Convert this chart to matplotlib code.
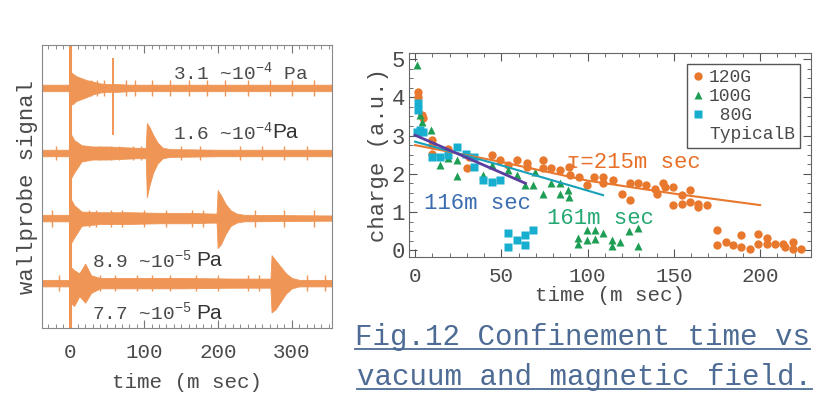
import matplotlib
matplotlib.use("Agg")
import matplotlib.pyplot as plt
from matplotlib.lines import Line2D
from matplotlib.ticker import MultipleLocator
import numpy as np

plt.rcParams['font.family'] = ['Liberation Mono', 'DejaVu Sans']
plt.rcParams['mathtext.fontset'] = 'custom'
plt.rcParams['mathtext.rm'] = 'Liberation Mono'

TXT = '#4a4a4a'
TRACE = '#ef9656'

# ---- left panel: wall probe traces (offsets 3,2,1,0) ----
offsets = [3, 2, 1, 0]

tr1_t = [-39, -2, 0, 3, 8, 15, 22, 30, 40, 50, 56, 62, 80, 120, 200, 280, 354]
tr1_up = [0.05, 0.05, 0.25, 0.22, 0.18, 0.15, 0.12, 0.10, 0.07, 0.06, 0.06, 0.06, 0.05, 0.05, 0.05, 0.05, 0.05]
tr1_dn = [0.05, 0.05, 0.25, 0.25, 0.20, 0.17, 0.14, 0.10, 0.07, 0.06, 0.06, 0.06, 0.05, 0.05, 0.05, 0.05, 0.05]

tr2_t = [-39, -2, 0, 5, 15, 30, 50, 70, 90, 102, 103.5, 107, 112, 118, 125, 135, 200, 354]
tr2_up = [0.05, 0.05, 0.30, 0.20, 0.12, 0.10, 0.10, 0.09, 0.08, 0.08, 0.46, 0.40, 0.28, 0.16, 0.08, 0.06, 0.05, 0.05]
tr2_dn = [0.05, 0.05, 0.40, 0.30, 0.13, 0.10, 0.10, 0.09, 0.08, 0.08, 0.68, 0.50, 0.30, 0.16, 0.08, 0.06, 0.05, 0.05]

tr3_t = [-39, -2, 0, 5, 15, 40, 80, 120, 160, 190, 198, 199.5, 204, 210, 217, 225, 235, 354]
tr3_up = [0.05, 0.05, 0.30, 0.20, 0.10, 0.09, 0.09, 0.08, 0.08, 0.07, 0.07, 0.43, 0.35, 0.22, 0.12, 0.07, 0.05, 0.04]
tr3_dn = [0.05, 0.05, 0.40, 0.30, 0.12, 0.09, 0.09, 0.08, 0.08, 0.07, 0.07, 0.46, 0.40, 0.25, 0.12, 0.07, 0.05, 0.04]

tr4_t = [-39, -2, 0, 5, 12, 20, 28, 40, 80, 150, 220, 271, 272.5, 278, 285, 292, 300, 310, 354]
tr4_up = [0.05, 0.05, 0.25, 0.20, 0.15, 0.30, 0.12, 0.08, 0.08, 0.08, 0.07, 0.07, 0.43, 0.35, 0.25, 0.15, 0.08, 0.05, 0.05]
tr4_dn = [0.05, 0.05, 0.30, 0.35, 0.20, 0.30, 0.15, 0.08, 0.08, 0.08, 0.07, 0.07, 0.45, 0.40, 0.28, 0.16, 0.08, 0.05, 0.05]

# small spikes on top of each band (time, half height)
sp1_t = [28, 36, 45, 75, 88, 110, 135, 160, 185, 210, 240, 270, 300, 330]
sp2_t = [-20, 20, 38, 55, 66, 85, 95, 150, 175, 230, 260, 290, 320]
sp3_t = [-25, 10, 25, 35, 55, 70, 100, 130, 165, 180, 250, 290, 330]
sp4_t = [-15, 40, 60, 90, 110, 135, 170, 200, 240, 255, 320, 345]
sp_h = [0.12, 0.11, 0.13, 0.12]
lone_spike = (58, 2.28, 3.46)   # spike on top trace

pressure_lbl = [r"3.1 ~10$^{-4}$ Pa", r"1.6 ~10$^{-4}$", r"8.9 ~10$^{-5}$", r"7.7 ~10$^{-5}$"]
pressure_pos = [(139, 3.23), (139, 2.31), (29, 0.35), (29, -0.46)]
pa_pos = [None, (274, 2.31), (170, 0.35), (170, -0.46)]

# ---- right panel: charge vs time ----
t120 = [1.9, 1.9, 3.9, 4.8, 9.7, 9.7, 9.7, 19.3, 30, 31, 44.4, 49, 54, 59, 64.7, 64.7, 74.4, 74.4, 79, 84,
        89, 90, 95, 99.5, 104, 109, 109, 115, 120, 124.6, 124.6, 129.5, 134, 139, 140, 144, 145, 149.7, 149.7,
        154.6, 154.6, 159.4, 159.4, 164, 164, 169, 175, 175, 180, 184.5, 189, 189, 194, 199, 199, 204, 204,
        208.7, 213.5, 214.5, 219, 219, 224]
v120 = [4.14, 4.0, 3.53, 3.45, 2.88, 2.75, 2.53, 2.66, 2.14, 2.44, 2.49, 2.36, 2.22, 2.36, 2.27, 2.18, 2.36, 2.14,
        2.14, 2.09, 2.18, 1.96, 1.92, 1.70, 1.92, 1.92, 1.75, 1.83, 1.48, 1.31, 1.75, 1.75, 1.70, 1.61, 1.48, 1.75,
        1.66, 1.66, 1.18, 1.44, 1.22, 1.57, 1.27, 1.22, 1.13, 1.18, 0.52, 0.13, 0.22, 0.13, 0.39, 0.09, 0.04, 0.42,
        0.17, 0.31, 0.17, 0.17, 0.17, 0.09, 0.22, 0.04, 0.04]
t100 = [1, 2.9, 3.9, 9.3, 14.5, 19.3, 24.5, 24.5, 39.6, 44.4, 54, 59, 63.8, 68.6, 69.6, 74, 78.8, 84, 84, 88.9,
        89, 94.7, 94.7, 99.5, 99.5, 104.3, 104.3, 109, 114, 114, 119, 124, 129.5, 129.5]
v100 = [4.84, 3.53, 3.36, 3.14, 2.23, 2.4, 2.36, 1.94, 1.96, 2.23, 2.09, 1.96, 1.70, 1.70, 2.05, 1.48, 1.75, 1.48,
        1.75, 1.57, 1.40, 0.31, 0.17, 0.52, 0.26, 0.52, 0.28, 0.44, 0.26, 0.10, 0.22, 0.51, 0.57, 0.10]
t80 = [1.9, 1.9, 1, 2.9, 4.8, 9.7, 14.5, 19.3, 24.5, 29.4, 34.2, 34.2, 39.6, 44.4, 49, 54, 54, 59, 63.8, 63.8, 68.6]
v80 = [3.84, 3.66, 3.1, 3.14, 3.1, 2.44, 2.44, 2.49, 2.7, 2.53, 2.44, 2.18, 1.83, 1.79, 1.83, 0.44, 0.09, 0.26,
       0.39, 0.13, 0.52]

fit120_t = [0, 50, 100, 150, 200]
fit120_v = [2.75, 2.31, 1.82, 1.48, 1.18]
fit100_t = [0, 50, 109]
fit100_v = [2.84, 2.22, 1.44]
fit80_t = [0, 30, 64]
fit80_v = [3.01, 2.42, 1.75]

C120, C100, C80 = '#e8782e', '#1e9e55', '#18aed0'

fig = plt.figure(figsize=(8.14, 4.08), dpi=100)

# left panel
ax1 = fig.add_axes([0.0512, 0.196, 0.3563, 0.6937])
ax1.set_xlim(-39, 354)
ax1.set_ylim(-0.69, 3.66)
traces = [(tr1_t, tr1_up, tr1_dn), (tr2_t, tr2_up, tr2_dn), (tr3_t, tr3_up, tr3_dn), (tr4_t, tr4_up, tr4_dn)]
for off, (t, up, dn), spt, h in zip(offsets, traces, [sp1_t, sp2_t, sp3_t, sp4_t], sp_h):
    t = np.array(t)
    ax1.fill_between(t, off + np.array(up), off - np.array(dn), color=TRACE, lw=0.6, ec=TRACE)
    ax1.vlines(spt, off - h, off + h, color=TRACE, lw=1.0)
ax1.vlines(lone_spike[0], lone_spike[1], lone_spike[2], color=TRACE, lw=1.4)
ax1.axvline(0, color=TRACE, lw=2.2)

for s, (x, y) in zip(pressure_lbl, pressure_pos):
    ax1.text(x, y, s, fontsize=14, color=TXT, va='center', ha='left')
for p in pa_pos:
    if p:
        ax1.text(p[0], p[1], 'Pa', fontsize=15, family='Liberation Sans', color='#333333', va='center', ha='left')

ax1.set_yticks([])
ax1.xaxis.set_major_locator(MultipleLocator(100))
ax1.xaxis.set_minor_locator(MultipleLocator(10))
ax1.tick_params(axis='x', which='both', direction='in', top=True, colors='#777777',
                labelcolor=TXT, labelsize=15, pad=11)
ax1.tick_params(axis='x', which='major', length=6)
ax1.tick_params(axis='x', which='minor', length=3)
for sp in ax1.spines.values():
    sp.set_color('#888888')
ax1.set_xlabel('time (m sec)', fontsize=15, color=TXT, labelpad=8)
ax1.set_ylabel('wallprobe signal', fontsize=16, color=TXT, labelpad=3)

# right panel
ax2 = fig.add_axes([0.5025, 0.370, 0.494, 0.500])
ax2.set_xlim(-3.5, 229.6)
ax2.set_ylim(-0.18, 5.16)
ax2.plot(fit120_t, fit120_v, color=C120, lw=1.5, zorder=3)
ax2.plot(fit100_t, fit100_v, color='#1aa0b8', lw=1.5, zorder=3)
ax2.plot(fit80_t, fit80_v, color='#5b3fa0', lw=2.0, zorder=3)
ax2.plot(t120, v120, 'o', color=C120, ms=6, mec='none', label='120G', zorder=2)
ax2.plot(t100, v100, '^', color=C100, ms=6, mec='none', label='100G', zorder=2)
ax2.plot(t80, v80, 's', color=C80, ms=6, mec='none', label=' 80G', zorder=2)
handles, labels = ax2.get_legend_handles_labels()
handles.append(Line2D([], [], ls='none'))
labels.append('TypicalB')
leg = ax2.legend(handles, labels, loc='upper right', fontsize=13, handlelength=0.6, handletextpad=0.3,
                 borderpad=0.3, labelspacing=0.1, fancybox=False, framealpha=1, borderaxespad=0.6)
leg.get_frame().set_edgecolor('#555555')
for tx in leg.get_texts():
    tx.set_color(TXT)

ax2.text(88, 2.3, 'τ=215m sec', fontsize=16, color='#e8702a', va='center', ha='left')
ax2.text(5, 1.23, '116m sec', fontsize=16, color='#3a6db0', va='center', ha='left')
ax2.text(76.5, 0.84, '161m sec', fontsize=16, color='#25a872', va='center', ha='left')

ax2.xaxis.set_major_locator(MultipleLocator(50))
ax2.xaxis.set_minor_locator(MultipleLocator(10))
ax2.yaxis.set_major_locator(MultipleLocator(1))
ax2.yaxis.set_minor_locator(MultipleLocator(0.25))
ax2.tick_params(which='both', direction='in', top=True, right=True, colors='#555555',
                labelcolor=TXT, labelsize=15)
ax2.tick_params(axis='x', which='both', pad=7)
ax2.tick_params(axis='y', which='both', pad=3)
ax2.tick_params(axis='y', labelsize=16)
ax2.tick_params(which='major', length=6)
ax2.tick_params(which='minor', length=3)
for sp in ax2.spines.values():
    sp.set_color('#666666')
ax2.set_xlabel('time (m sec)', fontsize=15, color=TXT, labelpad=0)
ax2.set_ylabel('charge (a.u.)', fontsize=16, color=TXT, labelpad=2)

# caption with underline
CAP = '#4d6b94'
cap1 = fig.text(355 / 814, 1 - 345 / 408, 'Fig.12 Confinement time vs', fontsize=21, color=CAP, va='baseline')
cap2 = fig.text(357 / 814, 1 - 385 / 408, 'vacuum and magnetic field.', fontsize=21, color=CAP, va='baseline')
fig.canvas.draw()
r = fig.canvas.get_renderer()
for c, ybase in [(cap1, 345), (cap2, 385)]:
    bb = c.get_window_extent(r)
    yy = 1 - (ybase + 4) / 408
    fig.add_artist(Line2D([bb.x0 / 814, bb.x1 / 814], [yy, yy], color=CAP, lw=1.3))

fig.savefig('out.png', dpi=100)
